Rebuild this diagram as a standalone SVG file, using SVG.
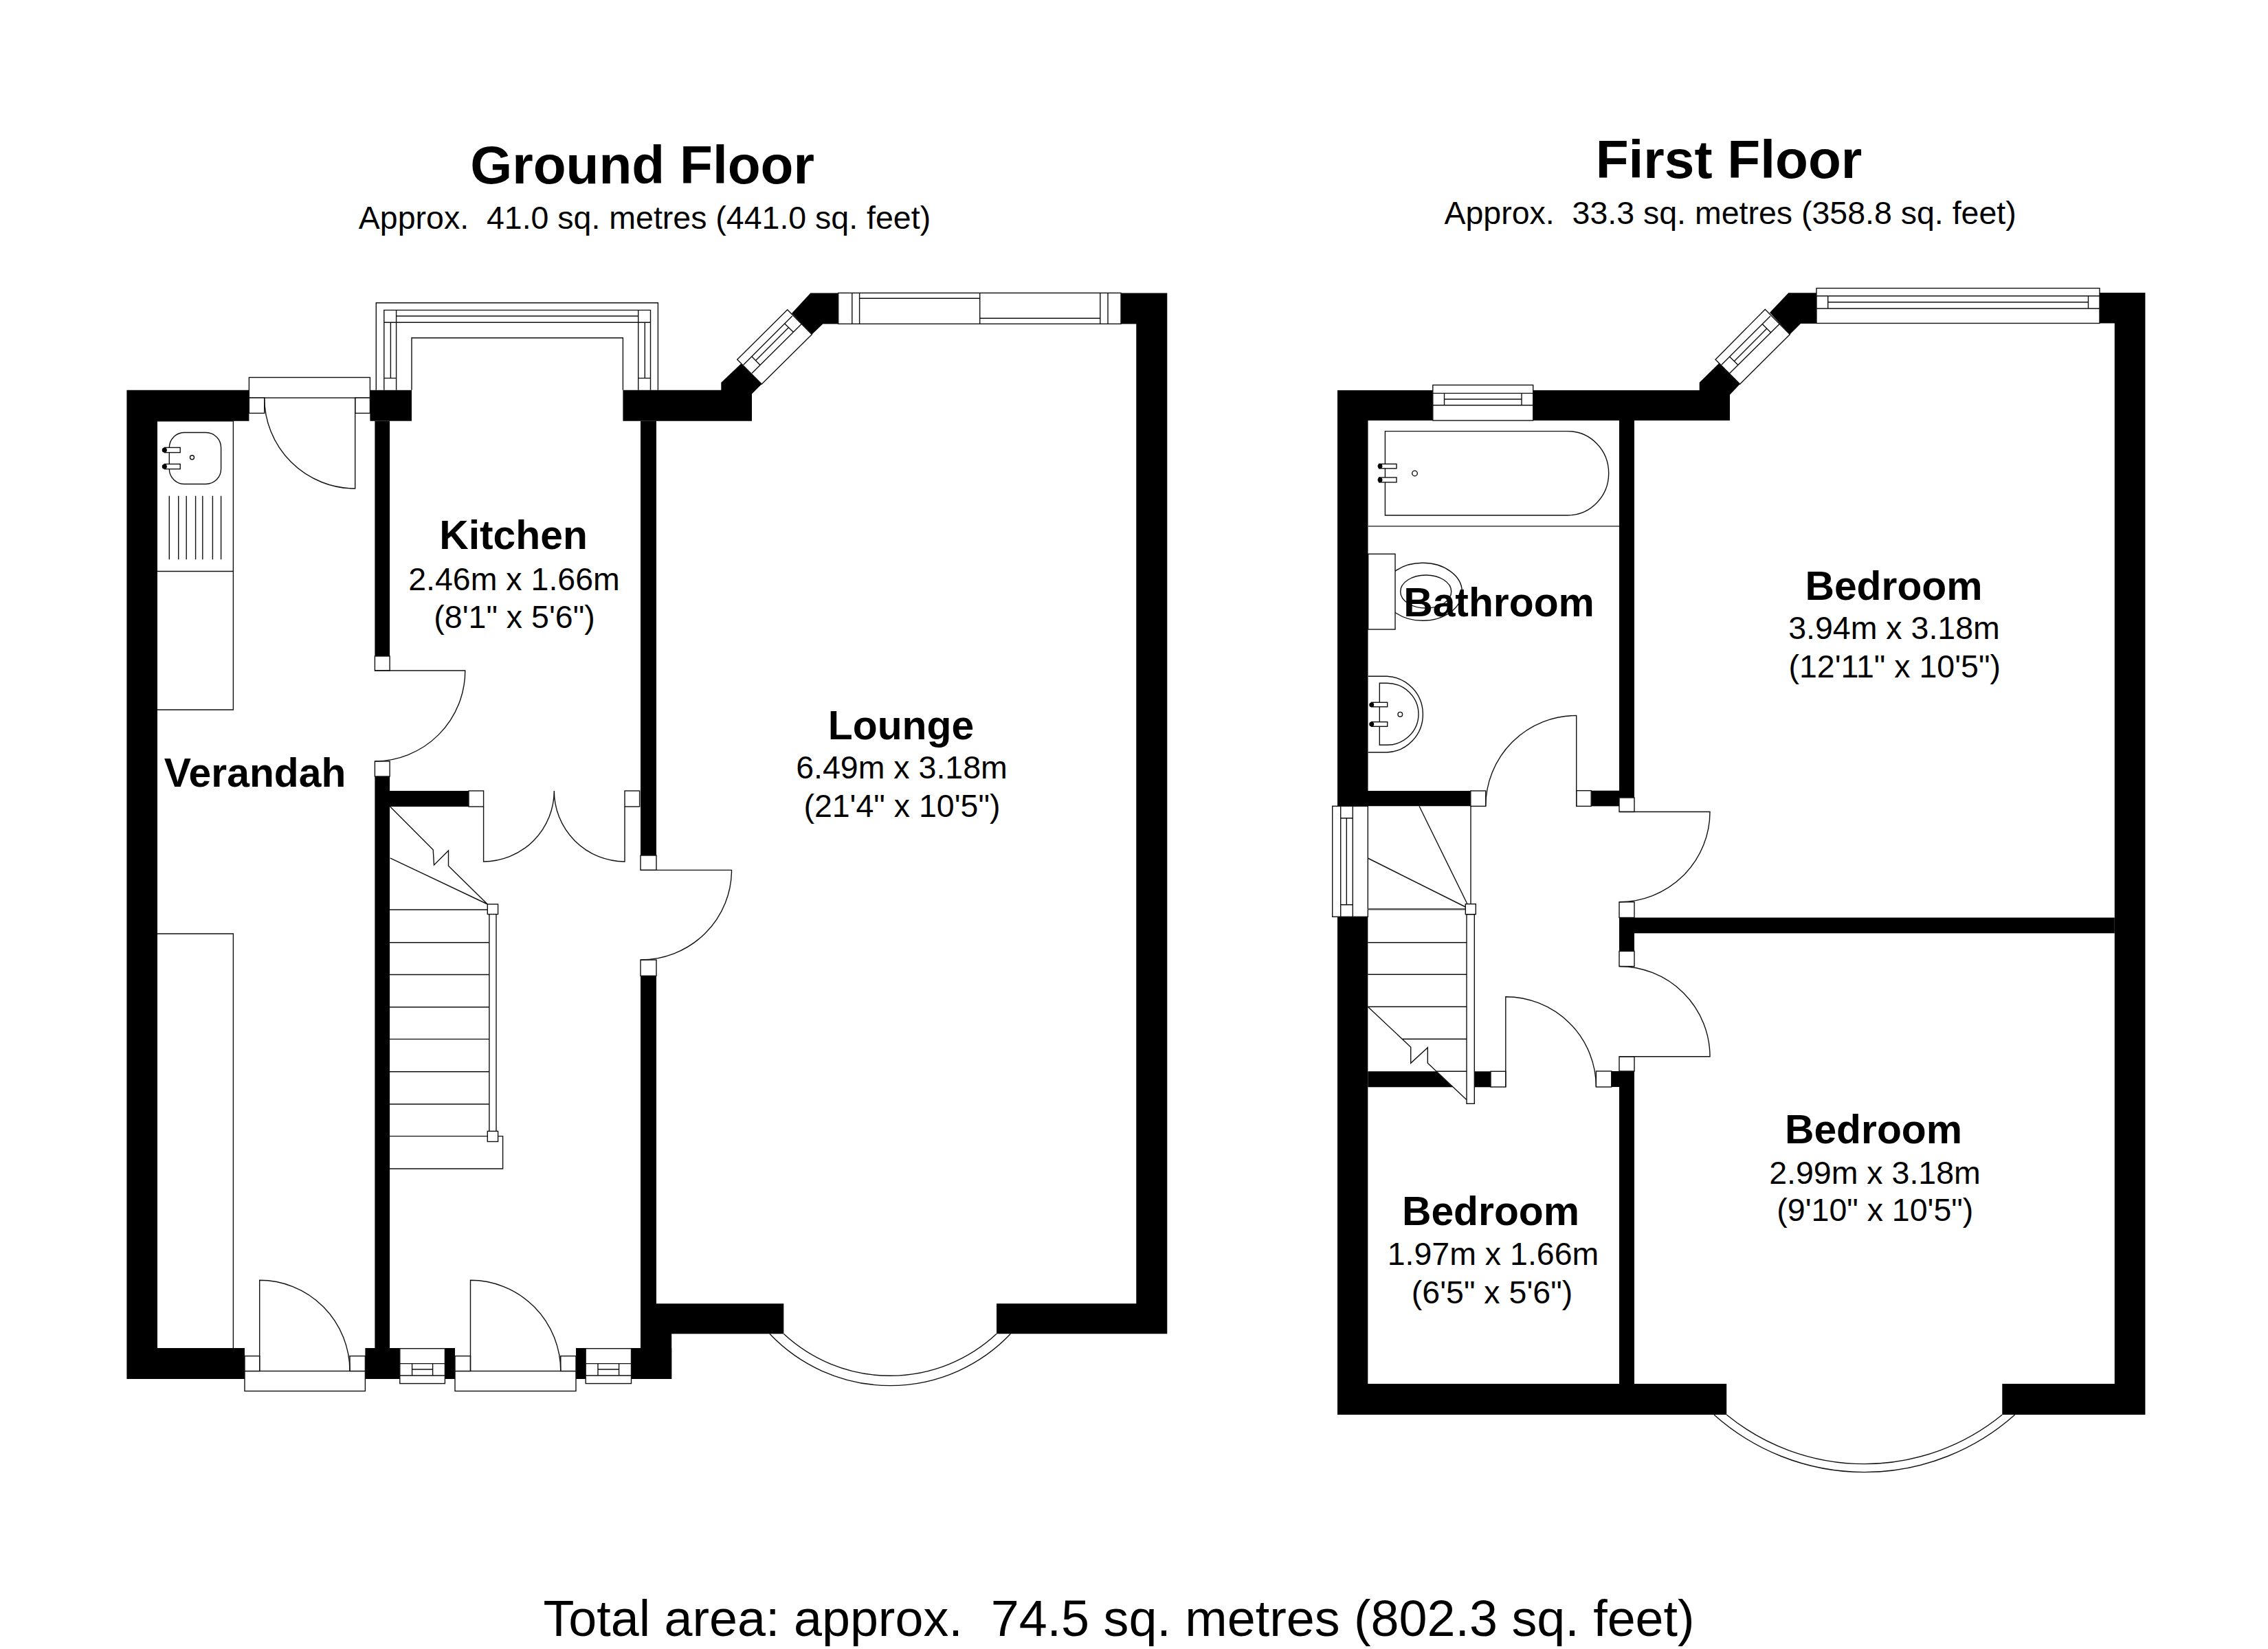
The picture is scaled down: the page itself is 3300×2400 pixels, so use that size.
<svg xmlns="http://www.w3.org/2000/svg" width="3300" height="2400" viewBox="0 0 3300 2400">
<style>
text{font-family:"Liberation Sans",Arial,sans-serif;fill:#000;text-anchor:middle;white-space:pre}
.title{font-size:78.4px;font-weight:700}
.name{font-size:58.8px;font-weight:700}
.dim{font-size:46.5px}
.total{font-size:73.7px}
.wall{fill:#000;stroke:none}
.ln{fill:none;stroke:#111;stroke-width:1.4}
.box{fill:#fff;stroke:#111;stroke-width:1.4}
.dot{fill:#000}
</style>
<defs>
<path id="bayWin" class="ln" d="M1145.7,450.7L1072.7,523.3L1108.3,559L1181.3,486.7ZM1152.7,460L1081.7,531M1166,471.7L1094,543.3M1141.7,471L1154.3,483.3M1094,519L1105.7,531M1147.3,476.7L1100,524.3"/>
</defs>
<rect width="3300" height="2400" fill="#fff"/>

<g id="ground-floor">
<g id="ground-walls" class="wall">
<path d="M184.4,567.8H362.4V612.7H229V1962H356V2007H184.4Z"/>
<rect x="538.4" y="567.8" width="60.6" height="44.9"/>
<rect x="545.4" y="612.7" width="21.7" height="342.3"/>
<rect x="545.4" y="1130" width="21.7" height="832"/>
<rect x="567" y="1151" width="115" height="23"/>
<rect x="531.4" y="1962" width="50.4" height="45"/>
<rect x="647.4" y="1962" width="14.6" height="45"/>
<rect x="838" y="1962" width="14.2" height="45"/>
<rect x="918.5" y="1962" width="58.7" height="45"/>
<rect x="932" y="612.7" width="23" height="632.3"/>
<rect x="932" y="1420.3" width="23" height="541.7"/>
<rect x="955" y="1897.3" width="185.3" height="44"/>
<rect x="955" y="1941" width="22.2" height="66"/>
<path d="M906.4,567.8H1049.3V556.7L1078.3,529.3L1108.3,559L1094,573.3V612.7H906.4Z"/>
<path d="M1179.3,426.4H1219.7V471.4H1197.3L1181.3,486.7L1152,456Z"/>
<path d="M1631,426.4H1698.3V1941.3H1450V1897.3H1653.3V471.4H1631Z"/>
</g>
<g id="ground-units">
<path class="ln" d="M229,612.7H339.4V1033H229M229,831.5H339.4M229,1359H339.4V1962"/>
<rect class="ln" x="246.3" y="629.5" width="75.3" height="75" rx="22"/>
<rect class="box" x="239.3" y="651.4" width="22.9" height="7.2"/>
<rect class="box" x="239.3" y="675.4" width="22.9" height="7.2"/>
<circle class="dot" cx="239.3" cy="655" r="3.6"/>
<circle class="dot" cx="239.3" cy="679" r="3.6"/>
<circle class="ln" cx="279.5" cy="665.7" r="3"/>
<path class="ln" d="M246.3,721.8V814.2M259.7,721.8V814.2M271.2,721.8V814.2M284.6,721.8V814.2M294.8,721.8V814.2M309.4,721.8V814.2M321.6,721.8V814.2"/>
</g>
<g id="ground-door-verandah">
<rect class="box" x="362.4" y="549.4" width="176" height="29.6"/>
<rect class="box" x="362.4" y="579" width="22.3" height="22.4"/>
<rect class="box" x="516.7" y="579" width="21.7" height="22.4"/>
<path class="ln" d="M516.7,579V711A132,132 0 0 1 384.7,579"/>
</g>
<g id="ground-window-kitchen">
<path class="ln" d="M547.3,567.8V440.7H957.4V567.8M558.8,567.8V451.4H946.5V567.8M558.8,469.3H946.5M576.6,460H928.7M576.6,451.4V567.8M928.7,451.4V567.8M568.4,469.3V550.4M938.3,469.3V550.4M558.8,550.4H576.6M928.7,550.4H946.5M599,567.8V491.7H906.4V567.8"/>
</g>
<g id="ground-inner-doors">
<rect class="box" x="545.4" y="955" width="21.7" height="21"/>
<rect class="box" x="545.4" y="1108" width="21.7" height="22"/>
<path class="ln" d="M545.4,976H676.8A132,132 0 0 1 545.4,1108"/>
<rect class="box" x="682" y="1151" width="21.6" height="23"/>
<rect class="box" x="909" y="1151" width="21.6" height="23"/>
<path class="ln" d="M703.6,1174V1254A103,103 0 0 0 806.3,1151A103,103 0 0 0 909,1254V1174"/>
<rect class="box" x="932" y="1245" width="23" height="21.4"/>
<rect class="box" x="932" y="1397" width="23" height="23.3"/>
<path class="ln" d="M932,1266.4H1064.5A132.5,130.6 0 0 1 932,1397"/>
</g>
<g id="ground-stairs">
<path class="ln" d="M567,1324H711.9M567,1371.8H711.9M567,1418.5H711.9M567,1465.8H711.9M567,1512.4H711.9M567,1559.7H711.9M567,1607H711.9M567,1653.6H731.6V1701H567M567.7,1248.8L709.3,1316M567.7,1174L630.2,1236.7L631.5,1259L652.5,1238V1260.3L709.3,1316"/>
<rect class="box" x="711.9" y="1324" width="10.1" height="329.6"/>
<rect class="box" x="709.3" y="1316" width="15.3" height="14.6"/>
<rect class="box" x="709.3" y="1646.4" width="15.3" height="15.1"/>
</g>
<g id="ground-front-doors">
<rect class="box" x="356" y="1995.5" width="175.4" height="29.1"/>
<rect class="box" x="356" y="1973.6" width="21.7" height="21.9"/>
<rect class="box" x="509" y="1973.6" width="22.4" height="21.9"/>
<path class="ln" d="M377.7,1995.5V1863.3A131.3,132.2 0 0 1 509,1995.5"/>
<rect class="box" x="662" y="1995.5" width="176" height="29.1"/>
<rect class="box" x="662" y="1973.6" width="22.5" height="21.9"/>
<rect class="box" x="815.8" y="1973.6" width="22.2" height="21.9"/>
<path class="ln" d="M684.5,1995.5V1863.3A131.3,132.2 0 0 1 815.8,1995.5"/>
</g>
<g id="ground-small-windows">
<rect class="box" x="581.8" y="1962.7" width="65.6" height="50.9"/>
<path class="ln" d="M581.8,1984.6H647.4M581.8,2002H647.4M599.6,1984.6V2002M629.6,1984.6V2002M599.6,1993H629.6"/>
<rect class="box" x="852.2" y="1962.7" width="66.3" height="50.9"/>
<path class="ln" d="M852.2,1984.6H918.5M852.2,2002H918.5M870,1984.6V2002M900.6,1984.6V2002M870,1993H900.6"/>
</g>
<g id="ground-lounge-windows">
<use href="#bayWin"/>
<rect class="box" x="1219.7" y="426.4" width="411.3" height="45"/>
<path class="ln" d="M1239.8,426.4V471.4M1250.6,426.4V471.4M1250.6,434.2H1425.7M1425.7,426.4V471.4M1425.7,463.3H1600.8M1600.8,426.4V471.4M1612,426.4V471.4"/>
<path class="ln" d="M1140.3,1941.3A227,227 0 0 0 1450,1941.3M1119.9,1941.3A241.5,241.5 0 0 0 1470.4,1941.3"/>
</g>
</g>

<g id="first-floor">
<g id="first-walls" class="wall">
<path d="M1946,568H2084.8V612H1990.5V1151H2139.8V1173.3H1946Z"/>
<path d="M2230.7,568H2472.7V556.7L2501.7,528.3L2531.7,559L2517,574.5V612H2230.7Z"/>
<path d="M2602.3,426.3H2643V471H2620L2604.3,486.7L2575,455Z"/>
<path d="M3055,426H3121.4V2059H2913.3V2014H3076.8V470.5H3055Z"/>
<rect x="2356" y="612" width="22" height="549"/>
<rect x="2315.2" y="1150.7" width="40.8" height="22.7"/>
<rect x="2356" y="1335.5" width="720.8" height="22.8"/>
<rect x="2356" y="1358" width="22" height="26.4"/>
<rect x="2356" y="1559" width="22" height="455"/>
<rect x="2344.7" y="1559" width="11.3" height="23"/>
<path d="M1946,1334.3H1990.3V2014H2512.2V2059H1946Z"/>
<path d="M1990.3,1559.3H2090L2114,1582.3H1990.3Z"/>
<rect x="2145.3" y="1559.3" width="23.7" height="23"/>
</g>
<g id="first-bathroom">
<path class="ln" d="M1990.7,765.9H2356"/>
<path class="ln" d="M2015.4,627.6H2281A59.7,61.2 0 0 1 2281,750H2015.4Z"/>
<rect class="box" x="2006.6" y="675.3" width="25.4" height="6.5"/>
<rect class="box" x="2006.6" y="694.9" width="25.4" height="7"/>
<circle class="dot" cx="2008" cy="678.5" r="3.4"/>
<circle class="dot" cx="2008" cy="698.4" r="3.4"/>
<circle class="ln" cx="2058.5" cy="688.9" r="3.8"/>
<ellipse class="ln" cx="2070" cy="861.3" rx="57.3" ry="42"/>
<ellipse class="ln" cx="2074.7" cy="861" rx="37" ry="24"/>
<rect class="box" x="1990.7" y="806.3" width="39.3" height="109.7"/>
<path class="ln" d="M1990.7,984.3H2018A54.7,55.4 0 0 1 2018,1095H1990.7M2018,994.3H2007.3V1084.3H2018A46,45 0 0 0 2018,994.3"/>
<rect class="box" x="1995.7" y="1022.3" width="23" height="6.4"/>
<rect class="box" x="1995.7" y="1050.7" width="23" height="6.6"/>
<circle class="dot" cx="1995.7" cy="1025.7" r="3.5"/>
<circle class="dot" cx="1995.7" cy="1054" r="3.5"/>
<circle class="ln" cx="2037.3" cy="1039.7" r="3.3"/>
</g>
<g id="first-windows">
<rect class="box" x="2084.8" y="560.4" width="145.9" height="51.6"/>
<path class="ln" d="M2084.8,572.4H2230.7M2084.8,589.7H2230.7M2101.5,572.4V589.7M2214,572.4V589.7M2101.5,581H2214"/>
<rect class="box" x="2643" y="419.5" width="412" height="51"/>
<path class="ln" d="M2643,430.7H3055M2643,449H3055M2659.7,430.7V449M3038.5,430.7V449M2659.7,439.7H3038.5"/>
<path class="ln" d="M2568.3,450.3L2496,523.3L2531.7,559L2604.3,486.7ZM2576,460L2505,530.7M2589,471.7L2516.7,543.3M2564.3,471.7L2576.7,484M2516.7,519.3L2529,531.3M2570.7,478.3L2523.3,525.7"/>
<rect class="box" x="1938.7" y="1173.3" width="51.6" height="161"/>
<path class="ln" d="M1950.7,1173.3V1334.3M1968.3,1173.3V1334.3M1950.7,1190.7H1968.3M1950.7,1316.7H1968.3M1959.3,1190.7V1316.7"/>
<path class="ln" d="M2493.9,2059A328.4,328.4 0 0 0 2931.7,2059M2512.2,2059A316.5,316.5 0 0 0 2913.3,2059"/>
</g>
<g id="first-doors">
<rect class="box" x="2139.8" y="1151" width="21.9" height="22.4"/>
<rect class="box" x="2293.7" y="1150.7" width="21.5" height="22.7"/>
<path class="ln" d="M2293.7,1173.4V1041.4A132,132 0 0 0 2161.7,1173.4"/>
<rect class="box" x="2356" y="1161" width="22" height="20.5"/>
<rect class="box" x="2356" y="1312.8" width="22" height="22.7"/>
<path class="ln" d="M2356,1181.5H2488A132,131.3 0 0 1 2356,1312.8"/>
<rect class="box" x="2356" y="1384.4" width="22" height="22.1"/>
<rect class="box" x="2356" y="1537.8" width="22" height="21.2"/>
<path class="ln" d="M2356,1406.5A132,131.3 0 0 1 2488,1537.8H2356"/>
<rect class="box" x="2322.4" y="1559" width="22.3" height="23"/>
<rect class="box" x="2169" y="1559.3" width="21.8" height="22.7"/>
<path class="ln" d="M2190.8,1582V1450.7A131.6,131.3 0 0 1 2322.4,1582"/>
</g>
<g id="first-stairs">
<path class="ln" d="M2140,1173.3V1315.7M2065,1173.3L2135,1315.7M1990.3,1249L2132.3,1320M1990.3,1371.7H2134M1990.3,1418.3H2134M1990.3,1465.3H2134M2040,1512.3H2134M2090,1559.3H2134M1990.3,1465.3L2052.7,1524V1547.3L2077.3,1524.7V1547.3L2134,1600.7"/>
<path d="M1990.3,1323.3H2134" fill="none" stroke="#555" stroke-width="2.6"/>
<rect class="box" x="2134" y="1330.7" width="11.3" height="275.6"/>
<rect class="box" x="2132.3" y="1315.7" width="15" height="15"/>
</g>
</g>

<g id="labels">
<text class="title" x="934.6" y="267">Ground Floor</text>
<text class="dim" x="938" y="333">Approx.  41.0 sq. metres (441.0 sq. feet)</text>
<text class="title" x="2515.5" y="259">First Floor</text>
<text class="dim" x="2517.6" y="326">Approx.  33.3 sq. metres (358.8 sq. feet)</text>
<g id="room-kitchen"><text class="name" x="747" y="799">Kitchen</text><text class="dim" x="748" y="858.5">2.46m x 1.66m</text><text class="dim" x="748.5" y="913.5">(8'1" x 5'6")</text></g>
<g id="room-verandah"><text class="name" x="371" y="1145">Verandah</text></g>
<g id="room-lounge"><text class="name" x="1311" y="1075.5">Lounge</text><text class="dim" x="1312" y="1133">6.49m x 3.18m</text><text class="dim" x="1312.4" y="1189">(21'4" x 10'5")</text></g>
<g id="room-bathroom"><text class="name" x="2181" y="896.5">Bathroom</text></g>
<g id="room-bedroom-1"><text class="name" x="2755.5" y="872.5">Bedroom</text><text class="dim" x="2756" y="930">3.94m x 3.18m</text><text class="dim" x="2756.7" y="986">(12'11" x 10'5")</text></g>
<g id="room-bedroom-2"><text class="name" x="2726" y="1664">Bedroom</text><text class="dim" x="2728" y="1722.7">2.99m x 3.18m</text><text class="dim" x="2728.3" y="1777">(9'10" x 10'5")</text></g>
<g id="room-bedroom-3"><text class="name" x="2169" y="1783">Bedroom</text><text class="dim" x="2172.5" y="1841">1.97m x 1.66m</text><text class="dim" x="2171" y="1897">(6'5" x 5'6")</text></g>
<text class="total" x="1628" y="2381">Total area: approx.  74.5 sq. metres (802.3 sq. feet)</text>
</g>
</svg>
